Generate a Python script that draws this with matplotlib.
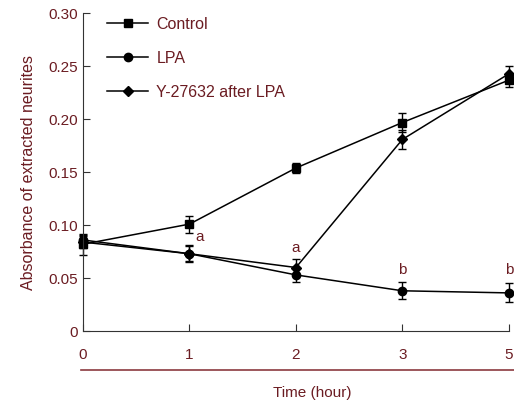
import matplotlib.pyplot as plt
from matplotlib.lines import Line2D

plt.rcParams['font.family'] = ['Liberation Sans', 'DejaVu Sans']

# data
time_labels = ['0', '1', '2', '3', '5']
control = [0.082, 0.101, 0.154, 0.197, 0.237]
control_err = [0.010, 0.008, 0.005, 0.009, 0.006]
lpa = [0.086, 0.073, 0.053, 0.038, 0.036]
lpa_err = [0.005, 0.008, 0.007, 0.008, 0.009]
y27632 = [0.084, 0.073, 0.060, 0.181, 0.243]
y27632_err = [0.006, 0.007, 0.008, 0.009, 0.007]
sig_letters = ['', 'a', 'a', 'b', 'b']
sig_y = ['', 0.082, 0.0715, 0.051, 0.051]

text_col = '#6b1c22'
pos = list(range(len(time_labels)))

fig = plt.figure(figsize=(5.14, 4.05), dpi=100)
ax = fig.add_axes([0.1615, 0.1827, 0.8285, 0.784])

series = [(control, control_err, 's', 6, 'Control'),
          (lpa, lpa_err, 'o', 6, 'LPA'),
          (y27632, y27632_err, 'D', 5, 'Y-27632 after LPA')]
for vals, err, mk, ms, name in series:
    ax.errorbar(pos, vals, yerr=err, fmt='none', ecolor='black', elinewidth=1,
                capsize=3, capthick=1, clip_on=False)
    ax.plot(pos, vals, color='black', lw=1.1, marker=mk, ms=ms, label=name, clip_on=False)

for i, (t, yy) in enumerate(zip(sig_letters, sig_y)):
    if t:
        dx = 0.1 if i == 1 else 0
        ax.text(pos[i] + dx, yy, t, color=text_col, fontsize=11, ha='center', va='bottom')

ax.set_xlim(0, 4)
ax.set_ylim(0, 0.30)
ax.set_xticks(pos)
ax.set_xticklabels(time_labels)
ax.set_yticks([0, 0.05, 0.10, 0.15, 0.20, 0.25, 0.30])
ax.set_yticklabels(['0', '0.05', '0.10', '0.15', '0.20', '0.25', '0.30'])
ax.tick_params(direction='in', length=5, colors='#333333', labelcolor=text_col, labelsize=11)
ax.tick_params(axis='x', pad=12)
ax.spines['top'].set_visible(False)
ax.spines['right'].set_visible(False)
for s in ['left', 'bottom']:
    ax.spines[s].set_color('#333333')

ax.set_ylabel('Absorbance of extracted neurites', color=text_col, fontsize=11.5, labelpad=9)
fig.text(0.607, 0.03, 'Time (hour)', color=text_col, fontsize=11, ha='center', va='center')
fig.add_artist(Line2D([0.158, 1.0], [0.086, 0.086], color='#8b3a3f', lw=1.2))

leg = ax.legend(loc='upper left', bbox_to_anchor=(0.022, 1.035), frameon=False, fontsize=11.5,
                labelcolor=text_col, labelspacing=1.2, handlelength=2.6, handletextpad=0.5)

fig.savefig('out.png', dpi=100)
